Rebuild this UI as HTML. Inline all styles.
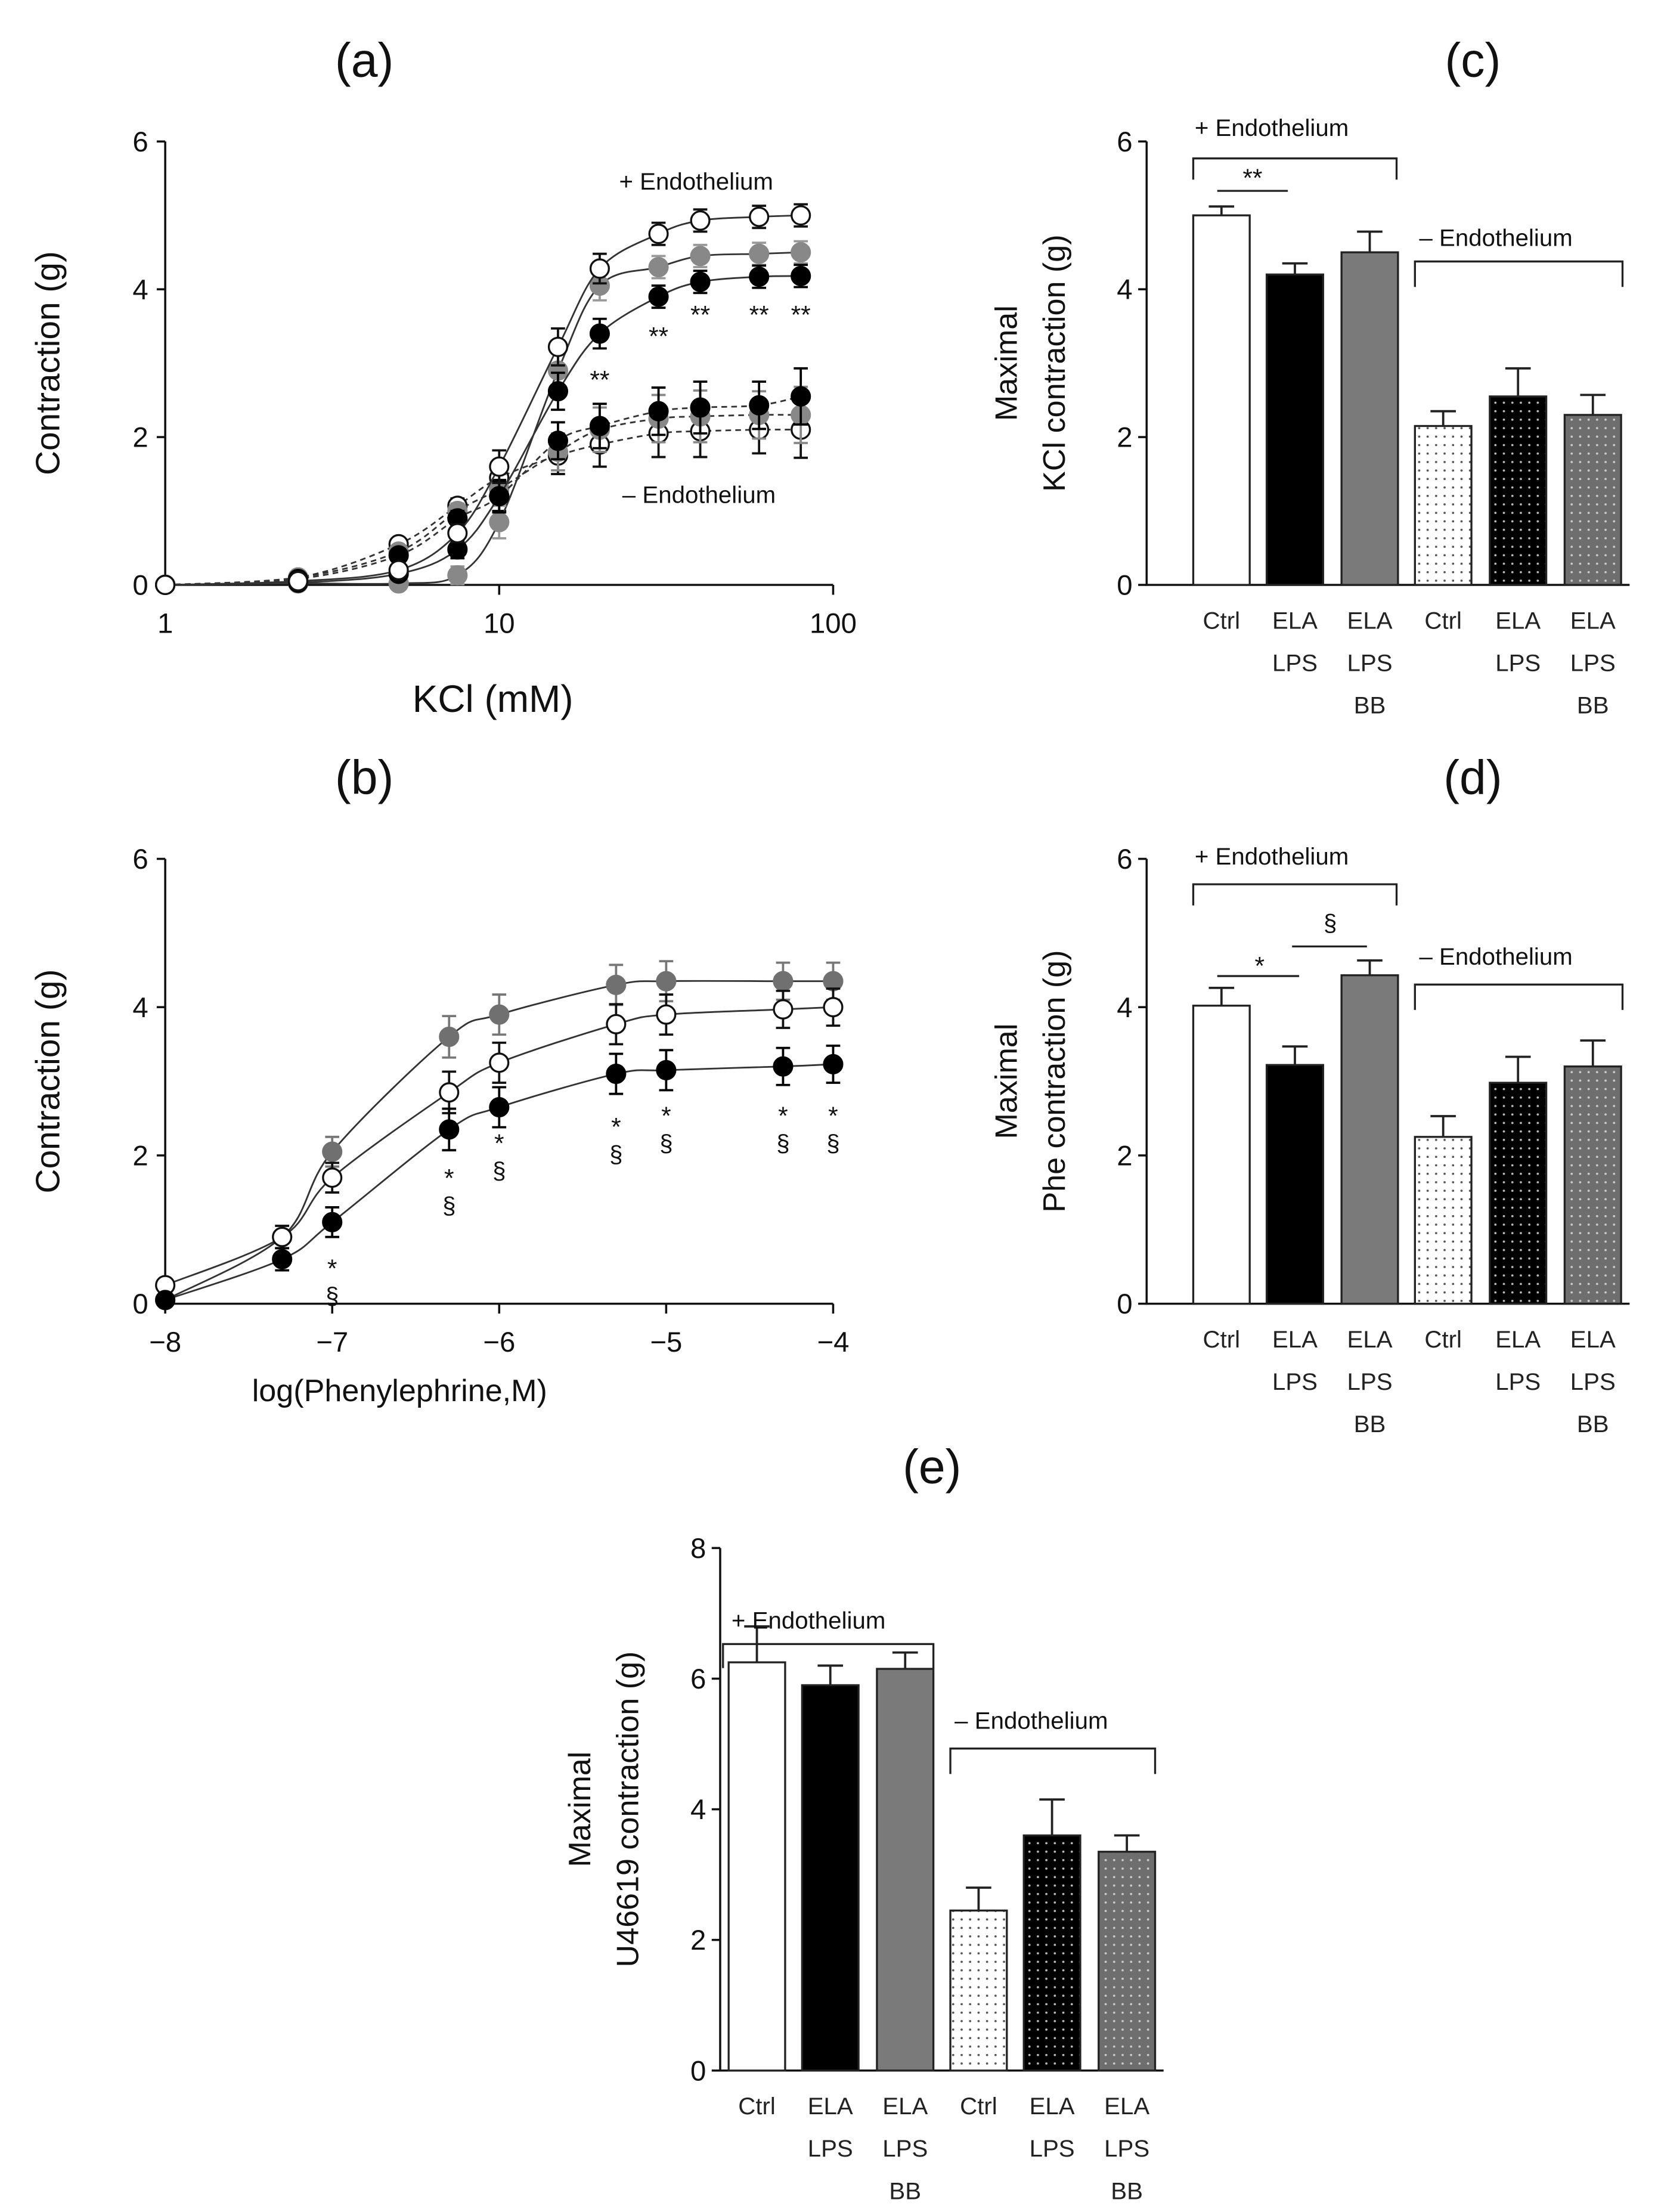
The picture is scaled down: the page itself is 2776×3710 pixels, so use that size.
<!DOCTYPE html>
<html><head><meta charset="utf-8"><style>
html,body{margin:0;padding:0;background:#fff;}
svg{display:block;}
text{font-family:"Liberation Sans",sans-serif;fill:#111;}
.cat{font-size:17px;fill:#222;}
</style></head>
<body>
<svg id="fig" width="2776" height="3710" viewBox="0 0 1172 1566" xmlns="http://www.w3.org/2000/svg">
<defs>
<pattern id="dotW" width="6" height="6" patternUnits="userSpaceOnUse"><rect width="6" height="6" fill="#fff"/><circle cx="3" cy="3" r="0.8" fill="#555"/></pattern>
<pattern id="dotB" width="6" height="6" patternUnits="userSpaceOnUse"><rect width="6" height="6" fill="#000"/><circle cx="3" cy="3" r="0.8" fill="#bbb"/></pattern>
<pattern id="dotG" width="6" height="6" patternUnits="userSpaceOnUse"><rect width="6" height="6" fill="#6e6e6e"/><circle cx="3" cy="3" r="0.8" fill="#ccc"/></pattern>
</defs>
</svg>
<script>
// ---------- data ----------
const kclConc = [1, 2.5, 5, 7.5, 10, 15, 20, 30, 40, 60, 80];
const kclCtrlPlus = [0, 0.05, 0.2, 0.7, 1.6, 3.22, 4.28, 4.75, 4.93, 4.98, 5.0];
const kclGrayPlus = [0, 0.02, 0.02, 0.13, 0.85, 2.9, 4.05, 4.3, 4.45, 4.48, 4.5];
const kclBlackPlus = [0, 0.03, 0.15, 0.48, 1.2, 2.62, 3.4, 3.9, 4.1, 4.17, 4.18];
const kclErrPlus = [0.03, 0.05, 0.08, 0.12, 0.22, 0.25, 0.2, 0.15, 0.15, 0.15, 0.15];
const kclCtrlMinus = [0, 0.1, 0.55, 1.07, 1.45, 1.75, 1.9, 2.05, 2.08, 2.1, 2.1];
const kclBlackMinus = [0, 0.08, 0.4, 0.9, 1.2, 1.95, 2.15, 2.35, 2.4, 2.43, 2.55];
const kclGrayMinus = [0, 0.1, 0.45, 1.0, 1.3, 1.8, 2.1, 2.25, 2.28, 2.3, 2.3];
const kclErrMinus = [0.03, 0.05, 0.08, 0.1, 0.2, 0.25, 0.3, 0.32, 0.35, 0.32, 0.38];
const kclStarX = [20, 30, 40, 60, 80];
const kclStarY = [2.81, 3.40, 3.69, 3.69, 3.69];

const pheLog = [-8, -7.3, -7, -6.3, -6, -5.3, -5, -4.3, -4];
const pheGray = [0.05, 0.9, 2.05, 3.6, 3.9, 4.3, 4.35, 4.35, 4.35];
const pheCtrl = [0.25, 0.9, 1.7, 2.85, 3.25, 3.77, 3.9, 3.97, 4.0];
const pheBlack = [0.05, 0.6, 1.1, 2.35, 2.65, 3.1, 3.15, 3.2, 3.23];
const pheErr = [0.05, 0.15, 0.2, 0.28, 0.27, 0.27, 0.27, 0.25, 0.25];
const pheSig = [-7, -6.3, -6, -5.3, -5, -4.3, -4];
const pheSigY = [0.51, 1.73, 2.2, 2.42, 2.57, 2.57, 2.57];

const barCats = [["Ctrl"], ["ELA", "LPS"], ["ELA", "LPS", "BB"], ["Ctrl"], ["ELA", "LPS"], ["ELA", "LPS", "BB"]];
const kclMax = [5.0, 4.2, 4.5, 2.15, 2.55, 2.3];
const kclMaxErr = [0.12, 0.15, 0.28, 0.2, 0.38, 0.27];
const pheMax = [4.02, 3.22, 4.43, 2.25, 2.98, 3.2];
const pheMaxErr = [0.24, 0.25, 0.2, 0.28, 0.35, 0.35];
const uMax = [6.25, 5.9, 6.15, 2.45, 3.6, 3.35];
const uMaxErr = [0.55, 0.3, 0.25, 0.35, 0.55, 0.25];

// ---------- helpers ----------
const NS = "http://www.w3.org/2000/svg";
const svg = document.getElementById("fig");
function el(tag, attrs, parent) {
  const e = document.createElementNS(NS, tag);
  for (const k in attrs) e.setAttribute(k, attrs[k]);
  (parent || svg).appendChild(e);
  return e;
}
function txt(x, y, s, size, anchor, parent, extra) {
  const t = el("text", Object.assign({x: x, y: y, "font-size": size, "text-anchor": anchor || "middle"}, extra || {}), parent);
  t.textContent = s;
  return t;
}
function smoothPath(pts) {
  let d = "M" + pts[0][0] + "," + pts[0][1];
  for (let i = 0; i < pts.length - 1; i++) {
    const p0 = pts[Math.max(0, i - 1)], p1 = pts[i], p2 = pts[i + 1], p3 = pts[Math.min(pts.length - 1, i + 2)];
    const c1 = [p1[0] + (p2[0] - p0[0]) / 6, p1[1] + (p2[1] - p0[1]) / 6];
    const c2 = [p2[0] - (p3[0] - p1[0]) / 6, p2[1] - (p3[1] - p1[1]) / 6];
    d += " C" + c1[0] + "," + c1[1] + " " + c2[0] + "," + c2[1] + " " + p2[0] + "," + p2[1];
  }
  return d;
}

// ---------- line chart ----------
function lineAxes(g, xs, yfun, y0, y6, xticks, xtickLabels, title, tx, xlabel, xlx, xly, xlsize) {
  txt(tx, y6 - 46, title, 34, "middle", g);
  const ax = el("path", {d: "M117," + y6 + " V" + y0 + " H590", stroke: "#111", "stroke-width": 1.5, fill: "none"}, g);
  
  
  [0, 2, 4, 6].forEach(v => {
    const y = yfun(v);
    el("line", {x1: 111, x2: 117, y1: y, y2: y, stroke: "#111", "stroke-width": 1.5}, g);
    const t = txt(105, y + 7, String(v), 20, "end", g);
    
    
  });
  xticks.forEach((v, i) => {
    const x = xs(v);
    el("line", {x1: x, x2: x, y1: y0, y2: y0 + 7, stroke: "#111", "stroke-width": 1.5}, g);
    const t = txt(x, y0 + 34, xtickLabels[i], 20, "middle", g);
    
    
  });
  const yl = txt(42, (y0 + y6) / 2, "Contraction (g)", 24, "middle", g, {transform: "rotate(-90 42 " + (y0 + y6) / 2 + ")"});
  
  
  const xl = txt(xlx, xly, xlabel, xlsize, "middle", g);
  
  
}
function series(g, name, xs, yfun, xv, yv, ev, fill, stroke, dashed) {
  const sg = el("g", {}, g);
  
  
  const pts = xv.map((x, i) => [xs(x), yfun(yv[i])]);
  const p = el("path", {d: smoothPath(pts), fill: "none", stroke: "#333", "stroke-width": 1.2, "stroke-dasharray": dashed ? "4,3" : "none"}, sg);
  
  xv.forEach((x, i) => {
    const cx = xs(x), cy = yfun(yv[i]), e1 = yfun(yv[i] + ev[i]), e2 = yfun(yv[i] - ev[i]);
    const eb = el("path", {d: "M" + cx + "," + e1 + " V" + e2 + " M" + (cx - 5) + "," + e1 + " h10 M" + (cx - 5) + "," + e2 + " h10", stroke: stroke, "stroke-width": 1.6, fill: "none"}, sg);
    
    const c = el("circle", {cx: cx, cy: cy, r: 6.5, fill: fill, stroke: fill === "#fff" ? "#111" : fill, "stroke-width": 1.4}, sg);
    
    
  });
}

// Panel a
const gA = el("g", {});


const xA = v => 117 + Math.log10(v) * 236.5;
const yA = v => 414 - v * 52.33;
lineAxes(gA, xA, yA, 414, 100, [1, 10, 100], ["1", "10", "100"], "(a)", 258, "KCl (mM)", 349, 504, 27);
series(gA, "series-ctrl-minus-endo", xA, yA, kclConc, kclCtrlMinus, kclErrMinus, "#fff", "#111", true);
series(gA, "series-gray-minus-endo", xA, yA, kclConc, kclGrayMinus, kclErrMinus, "#888", "#888", true);
series(gA, "series-ela-minus-endo", xA, yA, kclConc, kclBlackMinus, kclErrMinus, "#000", "#000", true);
series(gA, "series-gray-plus-endo", xA, yA, kclConc, kclGrayPlus, kclErrPlus, "#888", "#999", false);
series(gA, "series-ela-plus-endo", xA, yA, kclConc, kclBlackPlus, kclErrPlus, "#000", "#000", false);
series(gA, "series-ctrl-plus-endo", xA, yA, kclConc, kclCtrlPlus, kclErrPlus, "#fff", "#111", false);
kclStarX.forEach((x, i) => {
  const t = txt(xA(x), yA(kclStarY[i]) + 8, "**", 18, "middle", gA);
  
});
txt(493, 134, "+ Endothelium", 17, "middle", gA);
txt(495, 356, "– Endothelium", 17, "middle", gA);

// Panel b
const gB = el("g", {});


const xB = v => 117 + (v + 8) * 118.25;
const yB = v => 923 - v * 52.5;
lineAxes(gB, xB, yB, 923, 608, [-8, -7, -6, -5, -4], ["−8", "−7", "−6", "−5", "−4"], "(b)", 258, "log(Phenylephrine,M)", 283, 992, 22);
series(gB, "series-gray", xB, yB, pheLog, pheGray, pheErr, "#707070", "#777", false);
series(gB, "series-ctrl", xB, yB, pheLog, pheCtrl, pheErr, "#fff", "#111", false);
series(gB, "series-ela-lps", xB, yB, pheLog, pheBlack, pheErr, "#000", "#000", false);
pheSig.forEach((x, i) => {
  const y = yB(pheSigY[i]);
  txt(xB(x), y + 8, "*", 18, "middle", gB);
  txt(xB(x), y + 27, "§", 17, "middle", gB);
});

// ---------- bar charts ----------
const barFills = ["#fff", "#000", "#7a7a7a", "url(#dotW)", "url(#dotB)", "url(#dotG)"];
function barChart(name, ax, y0, yTop, ymax, step, vals, errs, bx, title, tx, ylab2, ann) {
  const g = el("g", {});
  
  
  const ys = v => y0 - v / ymax * (y0 - yTop);
  txt(tx, yTop - 46, title, 34, "middle", g);
  el("path", {d: "M" + ax + "," + yTop + " V" + y0 + " H" + (bx[5] + 46), stroke: "#111", "stroke-width": 1.5, fill: "none"}, g);
  for (let v = 0; v <= ymax; v += step) {
    el("line", {x1: ax - 6, x2: ax, y1: ys(v), y2: ys(v), stroke: "#111", "stroke-width": 1.5}, g);
    txt(ax - 10, ys(v) + 7, String(v), 20, "end", g);
  }
  vals.forEach((v, i) => {
    const x = bx[i], w = 40, yb = ys(v), ye = ys(v + errs[i]);
    const r = el("rect", {x: x, y: yb, width: w, height: y0 - yb, fill: barFills[i], stroke: "#222", "stroke-width": 1.4}, g);
    
    
    const e = el("path", {d: "M" + (x + w / 2) + "," + yb + " V" + ye + " M" + (x + w / 2 - 9) + "," + ye + " h18", stroke: "#222", "stroke-width": 1.6, fill: "none"}, g);
    
    barCats[i].forEach((s, j) => {
      const t = txt(x + w / 2, y0 + 31 + j * 30, s, 18, "middle", g, {class: "cat"});
      
      
    });
  });
  const cy = (y0 + yTop) / 2;
  const l1 = txt(ax - 92, cy, "Maximal", 22, "middle", g, {transform: "rotate(-90 " + (ax - 92) + " " + cy + ")"});
  
  const l2 = txt(ax - 58, cy, ylab2, 22, "middle", g, {transform: "rotate(-90 " + (ax - 58) + " " + cy + ")"});
  
  ann(g);
  return g;
}
function bracket(g, x1, x2, y, drop, label, lx, ly) {
  el("path", {d: "M" + x1 + "," + (y + drop) + " V" + y + " H" + x2 + " V" + (y + drop), stroke: "#222", "stroke-width": 1.4, fill: "none"}, g);
  txt(lx, ly, label, 17, "start", g);
}
const bxCD = [845, 897, 950, 1002, 1055, 1108];
barChart("panel-c-kcl-max", 812, 414, 100, 6, 2, kclMax, kclMaxErr, bxCD, "(c)", 1043, "KCl contraction (g)", g => {
  bracket(g, 845, 989, 112, 15, "+ Endothelium", 846, 96);
  bracket(g, 1002, 1149, 185, 18, "– Endothelium", 1005, 174);
  el("line", {x1: 862, x2: 912, y1: 135, y2: 135, stroke: "#222", "stroke-width": 1.4}, g);
  txt(887, 132, "**", 18, "middle", g);
});
barChart("panel-d-phe-max", 812, 923, 608, 6, 2, pheMax, pheMaxErr, bxCD, "(d)", 1043, "Phe contraction (g)", g => {
  bracket(g, 845, 989, 626, 15, "+ Endothelium", 846, 612);
  bracket(g, 1002, 1149, 697, 18, "– Endothelium", 1005, 683);
  el("line", {x1: 862, x2: 920, y1: 691, y2: 691, stroke: "#222", "stroke-width": 1.4}, g);
  txt(892, 690, "*", 18, "middle", g);
  el("line", {x1: 915, x2: 968, y1: 670, y2: 670, stroke: "#222", "stroke-width": 1.4}, g);
  txt(942, 659, "§", 17, "middle", g);
});
barChart("panel-e-u46619-max", 510, 1466, 1096, 8, 2, uMax, uMaxErr, [516, 568, 621, 673, 725, 778], "(e)", 660, "U46619 contraction (g)", g => {
  bracket(g, 512, 661, 1164, 17, "+ Endothelium", 518, 1153);
  bracket(g, 673, 818, 1238, 18, "– Endothelium", 676, 1224);
});
</script>
</body></html>
